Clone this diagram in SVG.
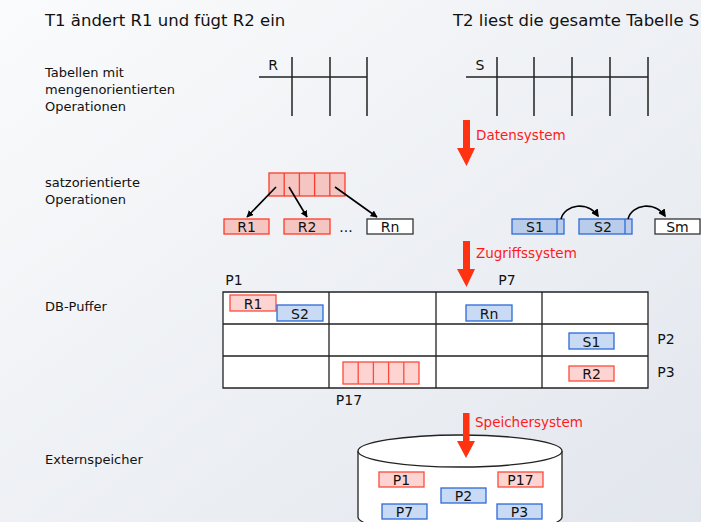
<svg xmlns="http://www.w3.org/2000/svg" width="701" height="522" viewBox="0 0 701 522">
<defs>
<linearGradient id="bg" x1="0" y1="0" x2="1" y2="1">
<stop offset="0" stop-color="#fafbfc"/>
<stop offset="1" stop-color="#e2e6ed"/>
</linearGradient>
<marker id="ah" viewBox="0 0 10 10" refX="9" refY="5" markerWidth="7" markerHeight="7" markerUnits="userSpaceOnUse" orient="auto">
<path d="M0,0 L10,5 L0,10 z" fill="#000"/>
</marker>
<marker id="ah2" viewBox="0 0 10 10" refX="8" refY="5" markerWidth="8" markerHeight="8" markerUnits="userSpaceOnUse" orient="auto">
<path d="M0,0 L10,5 L0,10 z" fill="#000"/>
</marker>
</defs>
<style>
text{font-family:"DejaVu Sans","Liberation Sans",sans-serif;fill:#111}
.title{font-size:16.5px}
.lbl{font-size:13px}
.red{font-size:13.5px;fill:#ff1a1a}
.bx{font-size:14px;text-anchor:middle}
.pk{fill:#f5c5c1;stroke:#ff3b2a;stroke-width:1.3}
.pkl{fill:#fdd4d1;stroke:#ff4a3a;stroke-width:1.3}
.bl{fill:#b9cdeb;stroke:#2d6ad8;stroke-width:1.3}
.bll{fill:#c9daf4;stroke:#2d6ad8;stroke-width:1.3}
.wh{fill:#fff;stroke:#333;stroke-width:1.3}
.ln{stroke:#222;stroke-width:1.5;fill:none}
.grid{stroke:#222;stroke-width:1.3;fill:none}
.ra{fill:#ff3311}
.con{stroke:#000;stroke-width:1.6;fill:none}
</style>
<rect width="701" height="522" fill="url(#bg)"/>

<text class="title" x="45" y="26">T1 ändert R1 und fügt R2 ein</text>
<text class="title" x="453" y="26">T2 liest die gesamte Tabelle S</text>

<text class="lbl" x="45" y="77">Tabellen mit</text>
<text class="lbl" x="45" y="94">mengenorientierten</text>
<text class="lbl" x="45" y="111">Operationen</text>
<text class="lbl" x="45" y="187">satzorientierte</text>
<text class="lbl" x="45" y="204">Operationen</text>
<text class="lbl" x="45" y="311">DB-Puffer</text>
<text class="lbl" x="45" y="464">Externspeicher</text>

<g id="tableR">
<path class="ln" d="M259,77 H367 M292,57 V116 M330,57 V116 M367,57 V116"/>
<text class="bx" x="273" y="70">R</text>
</g>
<g id="tableS">
<path class="ln" d="M466,77 H648 M497,57 V116 M534,57 V116 M572,57 V116 M610,57 V116 M648,57 V116"/>
<text class="bx" x="480" y="70">S</text>
</g>

<g id="arrowDaten">
<path class="ra" d="M463,120 H470 V148 H475 L466.5,166 L457,148 H463 z"/>
<text class="red" x="476" y="140">Datensystem</text>
</g>

<g id="recordBlock">
<rect class="pk" x="269" y="173" width="76" height="23"/>
<path class="pk" d="M284.2,173 V196 M299.4,173 V196 M314.6,173 V196 M329.8,173 V196"/>
</g>
<g id="R1"><rect class="pk" x="224" y="219" width="45" height="15"/><text class="bx" x="246.5" y="232">R1</text></g>
<g id="R2"><rect class="pk" x="284" y="219" width="46" height="15"/><text class="bx" x="307" y="232">R2</text></g>
<g id="dots"><text class="bx" x="346" y="232">...</text></g>
<g id="Rn"><rect class="wh" x="367" y="219" width="46" height="15"/><text class="bx" x="390" y="232">Rn</text></g>

<g id="S1"><rect class="bl" x="512" y="219" width="52" height="15"/><path class="bl" d="M557,219 V234"/><text class="bx" x="535" y="232">S1</text></g>
<g id="S2"><rect class="bl" x="579" y="219" width="53" height="15"/><path class="bl" d="M625,219 V234"/><text class="bx" x="603" y="232">S2</text></g>
<g id="Sm"><rect class="wh" x="655" y="219" width="45" height="15"/><text class="bx" x="677.5" y="232">Sm</text></g>

<g id="connectors">
<path class="con" marker-end="url(#ah)" d="M276,187 L247,217"/>
<path class="con" marker-end="url(#ah)" d="M289,187 L307,217"/>
<path class="con" marker-end="url(#ah)" d="M335,187 L377,217"/>
<path class="con" stroke-width="1.2" marker-end="url(#ah2)" d="M561,219 C565,204 588,201 598,216"/>
<path class="con" stroke-width="1.2" marker-end="url(#ah2)" d="M628,219 C632,204 655,201 665,216"/>
</g>

<g id="arrowZugriff">
<path class="ra" d="M463,241 H470 V269 H475 L466.5,287 L457,269 H463 z"/>
<text class="red" x="476" y="258">Zugriffssystem</text>
</g>

<g id="buffer">
<rect x="223" y="292" width="425" height="96" fill="#fff"/>
<path class="grid" d="M223,292 H648 V388 H223 z M223,324 H648 M223,356 H648 M329,292 V388 M436,292 V388 M542,292 V388"/>
<text class="bx" x="234" y="285">P1</text>
<text class="bx" x="507" y="285">P7</text>
<text class="bx" x="666" y="344">P2</text>
<text class="bx" x="666" y="377">P3</text>
<text class="bx" x="349" y="405">P17</text>
<rect class="pkl" x="230" y="295" width="46" height="16"/><text class="bx" x="253" y="309">R1</text>
<rect class="bll" x="277" y="305" width="46" height="16"/><text class="bx" x="300" y="319">S2</text>
<rect class="bll" x="466" y="305" width="46" height="16"/><text class="bx" x="489" y="319">Rn</text>
<rect class="bll" x="569" y="333" width="45" height="16"/><text class="bx" x="591.5" y="347">S1</text>
<rect class="pkl" x="569" y="366" width="45" height="15"/><text class="bx" x="591.5" y="379">R2</text>
<rect class="pkl" x="343" y="362" width="76" height="22"/>
<path class="pkl" d="M358.2,362 V384 M373.4,362 V384 M388.6,362 V384 M403.8,362 V384"/>
</g>

<g id="disk">
<path d="M358,451 V517 A102,16 0 0 0 562,517 V451" fill="#fff" stroke="#222" stroke-width="1.3"/>
<ellipse cx="460" cy="451" rx="102" ry="16" fill="#fff" stroke="#222" stroke-width="1.3"/>
<rect class="pkl" x="379" y="472" width="45" height="15"/><text class="bx" x="401.5" y="485">P1</text>
<rect class="pkl" x="498" y="472" width="45" height="15"/><text class="bx" x="520.5" y="485">P17</text>
<rect class="bll" x="441" y="488" width="45" height="15"/><text class="bx" x="463.5" y="501">P2</text>
<rect class="bll" x="382" y="504" width="45" height="15"/><text class="bx" x="404.5" y="517">P7</text>
<rect class="bll" x="497" y="504" width="45" height="15"/><text class="bx" x="519.5" y="517">P3</text>
</g>

<g id="arrowSpeicher">
<path class="ra" d="M463,413 H469.5 V441 H475 L466,458 L457,441 H463 z"/>
<text class="red" x="475" y="427">Speichersystem</text>
</g>
</svg>
